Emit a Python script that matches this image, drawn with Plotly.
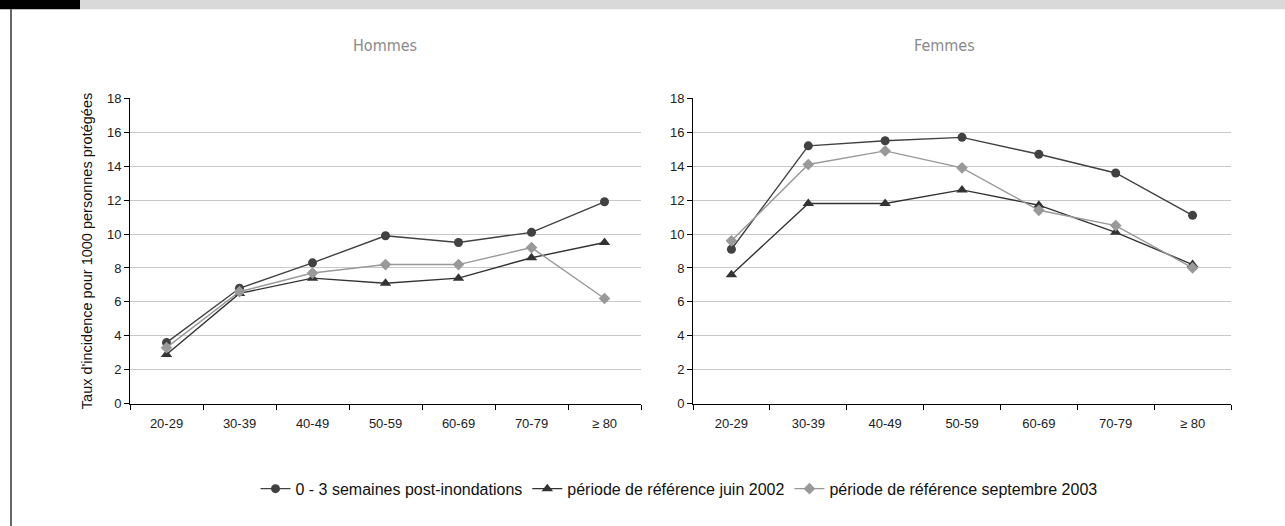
import plotly.graph_objects as go

W, H = 1285, 526

categories = ["20-29", "30-39", "40-49", "50-59", "60-69", "70-79", "\u2265 80"]

series_names = [
    "0 - 3 semaines post-inondations",
    "p\u00e9riode de r\u00e9f\u00e9rence juin 2002",
    "p\u00e9riode de r\u00e9f\u00e9rence septembre 2003",
]

hommes_post = [3.6, 6.8, 8.3, 9.9, 9.5, 10.1, 11.9]
hommes_juin2002 = [2.9, 6.5, 7.4, 7.1, 7.4, 8.6, 9.5]
hommes_sept2003 = [3.3, 6.6, 7.7, 8.2, 8.2, 9.2, 6.2]

femmes_post = [9.1, 15.2, 15.5, 15.7, 14.7, 13.6, 11.1]
femmes_juin2002 = [7.6, 11.8, 11.8, 12.6, 11.7, 10.1, 8.2]
femmes_sept2003 = [9.6, 14.1, 14.9, 13.9, 11.4, 10.5, 8.0]

panel_titles = ["Hommes", "Femmes"]
y_title = "Taux d'incidence pour 1000 personnes prot\u00e9g\u00e9es"

colors = ["#414141", "#333333", "#999999"]
symbols = ["circle", "triangle-up", "diamond"]
msizes = [9, 10, 9]

fig = go.Figure()

panels = [
    (hommes_post, hommes_juin2002, hommes_sept2003),
    (femmes_post, femmes_juin2002, femmes_sept2003),
]

for p, data in enumerate(panels):
    xa = "x" if p == 0 else "x2"
    ya = "y" if p == 0 else "y2"
    for i, vals in enumerate(data):
        fig.add_trace(go.Scatter(
            x=categories, y=vals, mode="lines+markers",
            name=series_names[i], legendgroup=series_names[i],
            showlegend=(p == 0),
            line=dict(color=colors[i], width=1.4),
            marker=dict(symbol=symbols[i], size=msizes[i], color=colors[i]),
            xaxis=xa, yaxis=ya,
        ))


def py(target):
    # convert a target pixel row (from top) into a paper fraction,
    # compensating for the vertical padding/resize of the capture
    div_y = target * 542 / 526 - 8
    return 1 - div_y / H


y0 = py(404)
y1 = py(99)

FONT = "Liberation Sans, Arial, sans-serif"

xcommon = dict(
    type="category", range=[-0.5, 6.5], tickson="boundaries",
    ticks="outside", ticklen=5, tickcolor="#000", showline=True,
    linecolor="#000", linewidth=1, showgrid=False, ticklabelstandoff=8,
    tickfont=dict(family=FONT, size=13, color="#222"),
)
ycommon = dict(
    range=[0, 18], dtick=2, ticks="outside", ticklen=5, tickcolor="#000",
    showline=True, linecolor="#000", linewidth=1, showgrid=True,
    gridcolor="#c8c8c8", gridwidth=1, zeroline=False,
    tickfont=dict(family=FONT, size=13, color="#222"),
)

fig.update_layout(
    width=W, height=H,
    margin=dict(l=0, r=0, t=0, b=0),
    paper_bgcolor="white", plot_bgcolor="white",
    xaxis=dict(domain=[130 / W, 641 / W], anchor="y", **xcommon),
    yaxis=dict(domain=[y0, y1], anchor="x",
               title=dict(text=y_title, standoff=10,
                          font=dict(family=FONT, size=14.5, color="#111")),
               **ycommon),
    xaxis2=dict(domain=[693 / W, 1231 / W], anchor="y2", **xcommon),
    yaxis2=dict(domain=[y0, y1], anchor="x2", **ycommon),
    legend=dict(orientation="h", x=679 / W, xanchor="center", y=py(489), yanchor="middle",
                font=dict(family=FONT, size=16, color="#111"),
                itemwidth=30, tracegroupgap=0, bgcolor="rgba(0,0,0,0)"),
    showlegend=True,
)

title_font = dict(family="Liberation Sans Narrow, DejaVu Sans Condensed, sans-serif", size=16, color="#8a8a8a")
fig.add_annotation(text=panel_titles[0], x=385 / W, y=py(46), xref="paper", yref="paper",
                   showarrow=False, font=title_font, xanchor="center", yanchor="middle")
fig.add_annotation(text=panel_titles[1], x=944 / W, y=py(46), xref="paper", yref="paper",
                   showarrow=False, font=title_font, xanchor="center", yanchor="middle")

# decorative frame pieces
fig.add_shape(type="rect", xref="paper", yref="paper", x0=0, x1=80 / W, y0=py(10), y1=1.05,
              fillcolor="#000", line=dict(width=0), layer="above")
fig.add_shape(type="rect", xref="paper", yref="paper", x0=80 / W, x1=1, y0=py(10), y1=1.05,
              fillcolor="#d9d9d9", line=dict(width=0), layer="above")
fig.add_shape(type="line", xref="paper", yref="paper", x0=11 / W, x1=11 / W, y0=-0.05, y1=py(10),
              line=dict(color="#000", width=1.2), layer="above")

fig.write_html(
    "out.html",
    config={"displayModeBar": False},
    post_script="document.body.style.margin='0';document.body.style.overflow='hidden';",
)
